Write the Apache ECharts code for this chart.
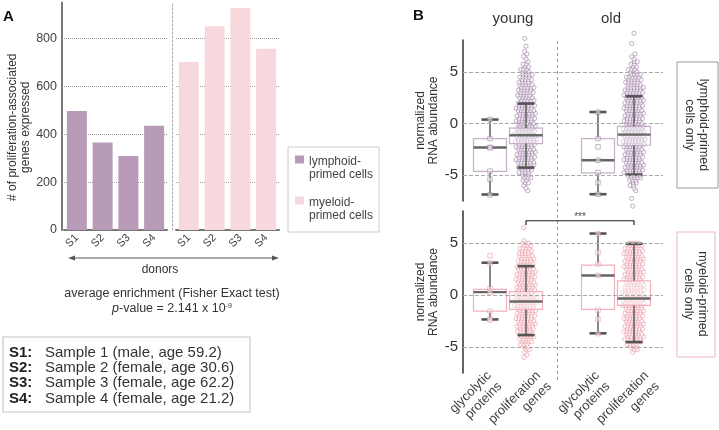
<!DOCTYPE html>
<html><head><meta charset="utf-8">
<script src="https://cdn.jsdelivr.net/npm/echarts@6/dist/echarts.min.js"></script>
<style>html,body{margin:0;padding:0;background:#fff}#c{width:719px;height:430px}</style>
</head><body><div id="c"></div>
<script>
const FONT = "'Liberation Sans', Arial, Helvetica, sans-serif";

// ---------- Panel A data ----------
const donors = ['S1', 'S2', 'S3', 'S4'];
const lymphoidGenes = [497, 365, 309, 435];
const myeloidGenes = [701, 850, 927, 757];
const barSeriesNames = ['lymphoid-\nprimed cells', 'myeloid-\nprimed cells'];
const sampleCodes = ['S1:', 'S2:', 'S3:', 'S4:'];
const sampleInfo = ['Sample 1 (male, age 59.2)', 'Sample 2 (female, age 30.6)', 'Sample 3 (female, age 62.2)', 'Sample 4 (female, age 21.2)'];

// ---------- Panel B data ----------
const geneSets = ['glycolytic\nproteins', 'proliferation\ngenes', 'glycolytic\nproteins', 'proliferation\ngenes'];
const ageGroups = ['young', 'old'];
const cellPanels = ['lymphoid-primed\ncells only', 'myeloid-primed\ncells only'];
// box stats per group: [min, q1, median, q3, max]
const lymphBoxStats = [[-6.87, -4.62, -2.32, -1.45, 0.39], [-4.26, -1.94, -1.13, -0.43, 1.94], [-6.84, -4.78, -3.55, -1.45, 1.12], [-4.94, -2.10, -1.07, -0.26, 2.64]];
const myeloidBoxStats = [[-2.34, -1.54, 0.29, 0.55, 3.12], [-3.85, -1.38, -0.61, 0.33, 2.79], [-3.68, -1.38, 1.89, 2.88, 5.93], [-4.52, -0.99, -0.32, 1.38, 4.94]];
// individual glycolytic protein values
const lymphGlycYoung = [0.4, -1.45, -2.3, -2.35, -4.6, -5.4, -6.9];
const lymphGlycOld = [1.1, -1.45, -2.25, -3.55, -4.75, -5.7, -6.85];
const myeloidGlycYoung = [3.8, 3.1, 0.6, 0.25, -1.55, -2.3, -2.4];
const myeloidGlycOld = [5.9, 4.1, 3.0, 1.9, -1.45, -2.3, -3.7];
// proliferation genes: number of genes per 0.25-wide value bin, starting at -8
const binStart = -8, binStep = 0.25;
const lymphProlifYoungCounts = [
  0,0,0,0,0,0,1,1, 1,2,2,3,3,4,4,5, 5,6,6,6,6,6,6,6, 6,7,7,7,7,6,6,6,
  6,6,6,6,6,6,6,6, 5,5,5,5,5,5,5,5, 4,4,4,4,3,3,2,2, 1,1,1,1,1,0,1,0, 0,1,0,0,0,0,0,0];
const lymphProlifOldCounts = [
  1,0,0,1,0,0,1,1, 2,2,3,4,5,6,6,6, 6,6,6,6,6,6,6,6, 7,7,7,7,7,7,7,6,
  6,6,6,6,6,6,6,6, 6,6,6,6,6,6,6,5, 5,5,5,4,3,3,2,2, 2,1,1,1,0,0,0,1, 0,0,0,1,0,0,0,0];
const myeloidProlifYoungCounts = [
  0,0,0,0,0,0,0,0, 1,1,1,2,2,3,4,4, 5,5,5,5,6,6,6,6, 6,6,6,6,7,7,7,7,
  7,6,6,6,6,6,6,6, 6,6,6,5,5,5,5,5, 4,4,4,3,3,1,0,0, 0,0,1,0,0,0,0,0, 0,0,0,0,0,0,0,0];
const myeloidProlifOldCounts = [
  0,0,0,0,0,0,0,0, 0,0,1,2,3,4,5,6, 6,6,6,6,6,6,6,6, 6,6,6,6,7,7,7,7,
  7,7,7,6,6,6,6,6, 6,6,6,6,6,6,6,6, 6,6,6,5,4,0,0,0, 0,0,0,0,0,0,0,0, 0,0,0,0,0,0,0,0];
const sigBracket = [6.75, 7.16]; // tick bottom, bracket level
const sigLabel = '***';

// ---------- layout (not data) ----------
const xPos = [3, 7, 15, 19];      // group positions on hidden value axis (9 px / unit)
const labelPos = [3.5, 9, 15.5, 21]; // where each rotated group label is anchored
const xMaxB = 200 / 9;
const dividerX = 10.5;
const C = {
  lymphBar: '#b89bb9', myeloBar: '#f7d8dd',
  lymphPt: '#9a78a0', myeloPt: '#e8919f',
  lymphBox: '#c6aec8', myeloBox: '#f0b1bc',
  dark: '#555', text: '#333'
};
const swarmShift = [-0.15, 0.2, 0.0, -0.25, 0.1];

function swarm(counts, pos) {
  const pts = [];
  counts.forEach((n, i) => {
    const y = binStart + i * binStep;
    for (let j = 0; j < n; j++) {
      pts.push([pos + (j - (n - 1) / 2) * 0.34 + swarmShift[i % swarmShift.length], y]);
    }
  });
  return pts;
}
function pointsAt(vals, pos) { return vals.map(v => [pos, v]); }

function boxRender(boxColor) {
  return function (params, api) {
    const x = api.value(0);
    const pMin = api.coord([x, api.value(1)]);
    const pQ1 = api.coord([x, api.value(2)]);
    const pMed = api.coord([x, api.value(3)]);
    const pQ3 = api.coord([x, api.value(4)]);
    const pMax = api.coord([x, api.value(5)]);
    const cx = pMin[0], bw = 33, cw = 17;
    return { type: 'group', children: [
      { type: 'rect', shape: { x: cx - bw / 2, y: pQ3[1], width: bw, height: pQ1[1] - pQ3[1] }, style: { fill: 'rgba(255,255,255,0.4)', stroke: boxColor, lineWidth: 1.2 } },
      { type: 'line', shape: { x1: cx, y1: pMax[1], x2: cx, y2: pQ3[1] }, style: { stroke: C.dark, lineWidth: 1.4 } },
      { type: 'line', shape: { x1: cx, y1: pQ1[1], x2: cx, y2: pMin[1] }, style: { stroke: C.dark, lineWidth: 1.4 } },
      { type: 'line', shape: { x1: cx - cw / 2, y1: pMax[1], x2: cx + cw / 2, y2: pMax[1] }, style: { stroke: C.dark, lineWidth: 2.6 } },
      { type: 'line', shape: { x1: cx - cw / 2, y1: pMin[1], x2: cx + cw / 2, y2: pMin[1] }, style: { stroke: C.dark, lineWidth: 2.6 } },
      { type: 'line', shape: { x1: cx - bw / 2, y1: pMed[1], x2: cx + bw / 2, y2: pMed[1] }, style: { stroke: '#666', lineWidth: 2.4 } }
    ] };
  };
}

const gridLinesB = {
  silent: true, symbol: 'none', label: { show: false },
  lineStyle: { type: 'dashed', color: '#aaa', width: 1 },
  data: [-5, 0, 5].map(v => ({ yAxis: v }))
};

function cloudSeries(counts, pos, color, gi, withGrid) {
  const s = {
    type: 'scatter', xAxisIndex: gi, yAxisIndex: gi, clip: false, z: 2,
    symbol: 'circle', symbolSize: 4.2,
    itemStyle: { color: 'rgba(255,255,255,0.8)', borderColor: color, borderWidth: 0.75 },
    data: swarm(counts, pos)
  };
  if (withGrid) s.markLine = gridLinesB;
  return s;
}
function glycSeries(young, old, color, gi) {
  return {
    type: 'scatter', xAxisIndex: gi, yAxisIndex: gi, clip: false, z: 4,
    symbol: 'rect', symbolSize: 4.5,
    itemStyle: { color: 'rgba(255,255,255,0.6)', borderColor: color, borderWidth: 0.7 },
    data: pointsAt(young, xPos[0]).concat(pointsAt(old, xPos[2]))
  };
}
function boxSeries(stats, color, gi) {
  return {
    type: 'custom', xAxisIndex: gi, yAxisIndex: gi, z: 3,
    renderItem: boxRender(color),
    encode: { x: 0, y: [1, 2, 3, 4, 5] },
    data: stats.map((s, i) => [xPos[i]].concat(s))
  };
}

const yAxisB = (gi) => ({
  type: 'value', gridIndex: gi, min: -7.5, max: 8.1, interval: 2.5,
  axisLine: { show: true, lineStyle: { color: '#333', width: 1.5 } },
  axisTick: { show: false },
  axisLabel: { formatter: v => (v % 5 === 0 ? String(v) : ''), fontSize: 15, color: C.text, margin: 5 },
  splitLine: { show: false },
  name: 'normalized\nRNA abundance', nameLocation: 'middle', nameGap: 22,
  nameTextStyle: { fontSize: 12, lineHeight: 13.5, color: C.text }
});
const yAxisA = (gi, first) => ({
  type: 'value', gridIndex: gi, min: 0, max: 950, interval: 200, offset: first ? 2 : 4,
  axisLine: { show: true, lineStyle: first ? { color: '#777', width: 2 } : { color: '#aaa', width: 1, type: [2, 2] } },
  axisTick: { show: false },
  axisLabel: { show: first, formatter: v => (v % 200 === 0 ? String(v) : ''), fontSize: 12.5, color: '#444', margin: 5, showMaxLabel: false },
  splitLine: { show: true, showMaxLine: false, showMinLine: false, lineStyle: { type: 'dotted', color: '#999' } },
  name: first ? '# of proliferation-associated\ngenes expressed' : '',
  nameLocation: 'middle', nameGap: 30,
  nameTextStyle: { fontSize: 12, lineHeight: 13, color: C.text, padding: [0, 22, 0, 0] }
});
const xAxisA = (gi) => ({
  type: 'category', gridIndex: gi, data: donors,
  axisLine: { show: true, lineStyle: { color: '#777', width: 2 } },
  axisTick: { show: false },
  axisLabel: { rotate: 45, fontSize: 11, color: '#444', margin: 6 }
});

const legendIcon = 'path://M0,0L9,0L9,8L0,8Z M0,25L0.05,25L0.05,25.05Z';

const option = {
  animation: false,
  textStyle: { fontFamily: FONT },
  legend: {
    data: barSeriesNames, orient: 'vertical', left: 288, top: 147,
    padding: [8, 6, 10, 7], itemGap: 15, itemWidth: 9, itemHeight: 26,
    icon: legendIcon, borderColor: '#ccc', borderWidth: 1,
    textStyle: { fontSize: 12, lineHeight: 13, color: '#444', fontFamily: FONT }
  },
  grid: [
    { left: 64, top: 2.4, width: 103, height: 227.6, outerBoundsMode: 'none' },
    { left: 176, top: 2.4, width: 103, height: 227.6, outerBoundsMode: 'none' },
    { left: 463, top: 40, width: 200, height: 161, outerBoundsMode: 'none' },
    { left: 463, top: 211, width: 200, height: 162, outerBoundsMode: 'none' },
    { left: 463, top: 41, width: 200, height: 339, outerBoundsMode: 'none' }
  ],
  xAxis: [
    xAxisA(0), xAxisA(1),
    { type: 'value', gridIndex: 2, min: 0, max: xMaxB, show: false },
    { type: 'value', gridIndex: 3, min: 0, max: xMaxB, interval: 0.5,
      axisLine: { show: false }, axisTick: { show: false }, splitLine: { show: false },
      axisLabel: { rotate: 45, fontSize: 13, lineHeight: 15, color: '#444', margin: 6, showMaxLabel: false, showMinLabel: false,
        formatter: v => { const i = labelPos.indexOf(Math.round(v * 100) / 100); return i >= 0 ? geneSets[i] : ''; } } },
    { type: 'value', gridIndex: 4, min: 0, max: xMaxB, show: false }
  ],
  yAxis: [
    yAxisA(0, true), yAxisA(1, false), yAxisB(2), yAxisB(3),
    { type: 'value', gridIndex: 4, min: 0, max: 1, show: false }
  ],
  series: [
    { type: 'bar', name: barSeriesNames[0], xAxisIndex: 0, yAxisIndex: 0, barWidth: 20, itemStyle: { color: C.lymphBar }, data: lymphoidGenes },
    { type: 'bar', name: barSeriesNames[1], xAxisIndex: 1, yAxisIndex: 1, barWidth: 20, itemStyle: { color: C.myeloBar }, data: myeloidGenes },
    cloudSeries(lymphProlifYoungCounts, xPos[1], C.lymphPt, 2, true),
    cloudSeries(lymphProlifOldCounts, xPos[3], C.lymphPt, 2, false),
    boxSeries(lymphBoxStats, C.lymphBox, 2),
    glycSeries(lymphGlycYoung, lymphGlycOld, C.lymphPt, 2),
    cloudSeries(myeloidProlifYoungCounts, xPos[1], C.myeloPt, 3, true),
    cloudSeries(myeloidProlifOldCounts, xPos[3], C.myeloPt, 3, false),
    boxSeries(myeloidBoxStats, C.myeloBox, 3),
    glycSeries(myeloidGlycYoung, myeloidGlycOld, C.myeloPt, 3),
    { type: 'line', xAxisIndex: 3, yAxisIndex: 3, symbol: 'none', clip: false, z: 5,
      lineStyle: { color: '#222', width: 1.2 },
      data: [[xPos[1], sigBracket[0]], [xPos[1], sigBracket[1]], [xPos[3], sigBracket[1]], [xPos[3], sigBracket[0]]] },
    { type: 'scatter', xAxisIndex: 3, yAxisIndex: 3, symbolSize: 0, clip: false, z: 5,
      label: { show: true, position: 'top', distance: -1, formatter: sigLabel, fontSize: 10, color: '#222' },
      data: [[(xPos[1] + xPos[3]) / 2, sigBracket[1]]] },
    { type: 'line', xAxisIndex: 4, yAxisIndex: 4, symbol: 'none', z: 1,
      lineStyle: { color: '#999', width: 1, type: [3, 3] },
      data: [[dividerX, 0], [dividerX, 1]] }
  ],
  graphic: [
    { type: 'text', style: { text: 'A', x: 3, y: 17, fontSize: 15, fontWeight: 'bold', fontFamily: FONT, fill: '#111', verticalAlign: 'middle' } },
    { type: 'text', style: { text: 'B', x: 413, y: 16, fontSize: 15, fontWeight: 'bold', fontFamily: FONT, fill: '#111', verticalAlign: 'middle' } },
    { type: 'text', style: { text: ageGroups[0], x: 513, y: 19, fontSize: 15, fontFamily: FONT, fill: C.text, align: 'center', verticalAlign: 'middle' } },
    { type: 'text', style: { text: ageGroups[1], x: 611, y: 19, fontSize: 15, fontFamily: FONT, fill: C.text, align: 'center', verticalAlign: 'middle' } },
    // donors double arrow
    { type: 'line', shape: { x1: 72, y1: 258, x2: 275, y2: 258 }, style: { stroke: '#555', lineWidth: 1.2 } },
    { type: 'polygon', shape: { points: [[68, 258], [75, 255.5], [75, 260.5]] }, style: { fill: '#555' } },
    { type: 'polygon', shape: { points: [[279, 258], [272, 255.5], [272, 260.5]] }, style: { fill: '#555' } },
    { type: 'text', style: { text: 'donors', x: 160, y: 270, fontSize: 12, fontFamily: FONT, fill: C.text, align: 'center', verticalAlign: 'middle' } },
    { type: 'text', style: { text: 'average enrichment (Fisher Exact test)', x: 172, y: 294, fontSize: 12.5, fontFamily: FONT, fill: C.text, align: 'center', verticalAlign: 'middle' } },
    { type: 'text', style: { text: '{i|p}-value = 2.141 x 10{s|-9}', x: 172, y: 309, fontSize: 12.5, fontFamily: FONT, fill: C.text, align: 'center', verticalAlign: 'middle',
      rich: { i: { fontStyle: 'italic', fontSize: 12.5, fontFamily: FONT, fill: C.text }, s: { fontSize: 7, fontFamily: FONT, fill: C.text, verticalAlign: 'top' } } } },
    // sample legend box
    { type: 'rect', shape: { x: 3, y: 337, width: 247, height: 75 }, style: { fill: '#fff', stroke: '#c8c8c8', lineWidth: 1.2 } },
    { type: 'text', style: { text: sampleCodes.join('\n'), x: 9, y: 345, fontSize: 15, lineHeight: 15.3, fontWeight: 'bold', fontFamily: FONT, fill: '#222', verticalAlign: 'top' } },
    { type: 'text', style: { text: sampleInfo.join('\n'), x: 45, y: 345, fontSize: 15, lineHeight: 15.3, fontFamily: FONT, fill: C.text, verticalAlign: 'top' } },
    // right-side panel labels
    { type: 'rect', shape: { x: 677, y: 62, width: 41, height: 126 }, style: { fill: 'none', stroke: '#9a9a9a', lineWidth: 1 } },
    { type: 'text', x: 696, y: 125, rotation: -Math.PI / 2, style: { text: cellPanels[0], x: 0, y: 0, fontSize: 12.5, lineHeight: 14, fontFamily: FONT, fill: C.text, align: 'center', verticalAlign: 'middle' } },
    { type: 'rect', shape: { x: 677, y: 232, width: 38, height: 125 }, style: { fill: 'none', stroke: '#efb5bf', lineWidth: 1 } },
    { type: 'text', x: 695, y: 294, rotation: -Math.PI / 2, style: { text: cellPanels[1], x: 0, y: 0, fontSize: 12.5, lineHeight: 14, fontFamily: FONT, fill: C.text, align: 'center', verticalAlign: 'middle' } }
  ]
};

const chart = echarts.init(document.getElementById('c'), null, { renderer: 'canvas' });
chart.setOption(option);
</script>
</body></html>
